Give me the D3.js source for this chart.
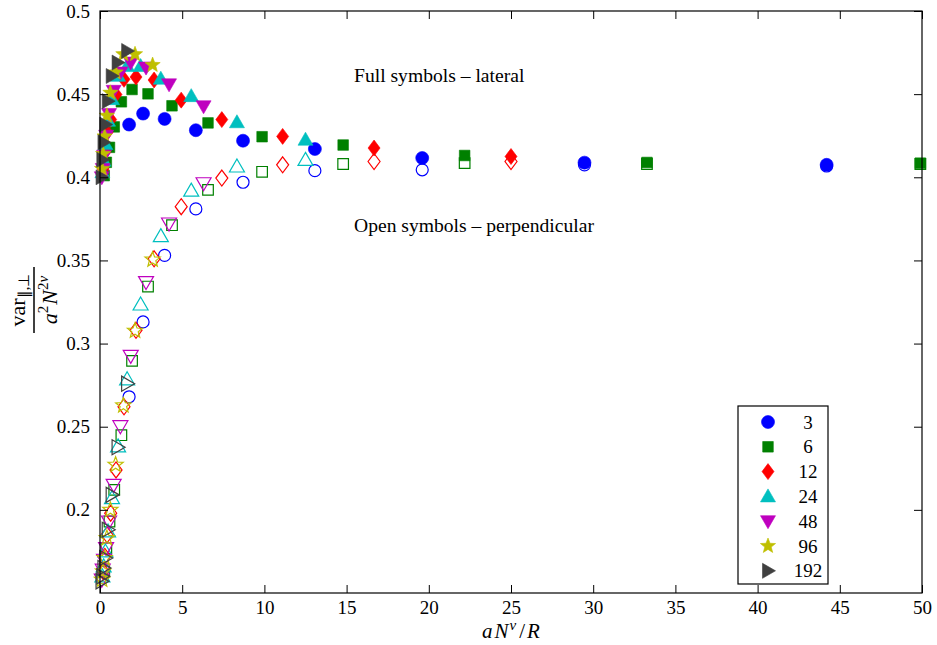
<!DOCTYPE html>
<html>
<head>
  <meta charset="utf-8">
  <script src="https://d3js.org/d3.v7.min.js"></script>
  <style>
    body { margin: 0; background: #fff; }
    svg text { font-family: "Liberation Serif", "Times New Roman", serif; fill: #000; }
  </style>
  <script type="text/javascript">
    // chain length N for each series (legend)
    var seriesLabels = ["3", "6", "12", "24", "48", "96", "192"];
    var seriesColors = ["#0000ff", "#008000", "#ff0000", "#00bfbf", "#bf00bf", "#bfbf00", "#404040"];
    var seriesShapes = ["circle", "square", "diamond", "triangleUp", "triangleDown", "star", "triangleRight"];

    // aN^nu/R values and variances (full = lateral, open = perpendicular)
    var x3 = [1.77, 2.62, 3.93, 5.83, 8.7, 13.07, 19.6, 29.47, 44.2];
    var full3 = [0.4317, 0.4383, 0.4351, 0.4283, 0.422, 0.417, 0.4116, 0.4088, 0.4075];
    var open3 = [0.268, 0.313, 0.353, 0.381, 0.397, 0.404, 0.4045, 0.4075, 0.4068];

    var x6 = [0.257, 0.385, 0.577, 0.866, 1.30, 1.95, 2.92, 4.38, 6.57, 9.86, 14.79, 22.18, 33.27, 49.9];
    var full6 = [0.401, 0.409, 0.418, 0.4303, 0.4454, 0.4528, 0.4502, 0.443, 0.4327, 0.4244, 0.4194, 0.4131, 0.4089, 0.4085];
    var open6 = [0.163, 0.177, 0.193, 0.212, 0.2449, 0.2896, 0.3343, 0.3712, 0.3924, 0.4033, 0.408, 0.4085, 0.408, 0.408];

    var x12 = [0.19, 0.29, 0.43, 0.65, 0.975, 1.46, 2.19, 3.29, 4.94, 7.41, 11.11, 16.67, 25.0];
    var full12 = [0.405, 0.415, 0.427, 0.4347, 0.4498, 0.4589, 0.4603, 0.4585, 0.4464, 0.4347, 0.4246, 0.4176, 0.4125];
    var open12 = [0.163, 0.172, 0.185, 0.198, 0.224, 0.262, 0.308, 0.351, 0.3823, 0.3995, 0.4075, 0.4095, 0.4095];

    var x24 = [0.145, 0.22, 0.33, 0.49, 0.73, 1.10, 1.65, 2.47, 3.70, 5.55, 8.33, 12.5];
    var full24 = [0.403, 0.41, 0.42, 0.434, 0.447, 0.461, 0.4669, 0.4669, 0.4593, 0.4488, 0.4331, 0.4226];
    var open24 = [0.16, 0.166, 0.175, 0.187, 0.207, 0.2382, 0.2785, 0.3235, 0.3646, 0.392, 0.4065, 0.4105];

    var x48 = [0.11, 0.165, 0.245, 0.37, 0.55, 0.83, 1.24, 1.87, 2.8, 4.2, 6.3];
    var full48 = [0.4, 0.405, 0.413, 0.425, 0.438, 0.452, 0.463, 0.469, 0.466, 0.4559, 0.4427];
    var open48 = [0.158, 0.164, 0.17, 0.177, 0.193, 0.215, 0.2503, 0.2926, 0.337, 0.3722, 0.3964];

    var x96 = [0.125, 0.19, 0.28, 0.42, 0.63, 0.95, 1.42, 2.13, 3.2];
    var full96 = [0.405, 0.414, 0.4246, 0.437, 0.4508, 0.463, 0.474, 0.474, 0.4675];
    var open96 = [0.158, 0.163, 0.171, 0.183, 0.20, 0.2271, 0.2628, 0.3077, 0.3505];

    var x192 = [0.094, 0.14, 0.21, 0.32, 0.47, 0.71, 1.07, 1.65];
    var full192 = [0.4, 0.4105, 0.421, 0.4317, 0.4458, 0.4609, 0.469, 0.476];
    var open192 = [0.157, 0.16, 0.165, 0.171, 0.188, 0.209, 0.2376, 0.2759];

    var xTicks = [0, 5, 10, 15, 20, 25, 30, 35, 40, 45, 50];
    var yTicks = [0.2, 0.25, 0.3, 0.35, 0.4, 0.45, 0.5];

    function draw() {
      "use strict";
      var width = 937, height = 645;
      var left = 100, right = 922, top = 11, bottom = 593;

      var allX = [x3, x6, x12, x24, x48, x96, x192];
      var allFull = [full3, full6, full12, full24, full48, full96, full192];
      var allOpen = [open3, open6, open12, open24, open48, open96, open192];

      var svg = d3.select("body").append("svg")
          .attr("width", width)
          .attr("height", height);

      var x = d3.scaleLinear().domain([0, 50]).range([left, right]);
      var y = d3.scaleLinear().domain([0.15, 0.5]).range([bottom, top]);

      // marker outlines, drawn around (0,0)
      function markerPath(shape, open) {
        var p = d3.path();
        if (shape === "circle") {
          var r = open ? 6 : 6.5;
          p.arc(0, 0, r, 0, 2 * Math.PI);
        } else if (shape === "square") {
          p.rect(-5.3, -5.3, 10.6, 10.6);
        } else if (shape === "diamond") {
          p.moveTo(0, -8); p.lineTo(6, 0); p.lineTo(0, 8); p.lineTo(-6, 0); p.closePath();
        } else if (shape === "triangleUp") {
          p.moveTo(0, -7.5); p.lineTo(7.5, 5.5); p.lineTo(-7.5, 5.5); p.closePath();
        } else if (shape === "triangleDown") {
          p.moveTo(0, 7.5); p.lineTo(7.5, -5.5); p.lineTo(-7.5, -5.5); p.closePath();
        } else if (shape === "triangleRight") {
          p.moveTo(7.5, 0); p.lineTo(-5.5, -7.5); p.lineTo(-5.5, 7.5); p.closePath();
        } else if (shape === "star") {
          for (var k = 0; k < 10; k++) {
            var rr = k % 2 === 0 ? 8 : 3.4;
            var a = -Math.PI / 2 + k * Math.PI / 5;
            if (k === 0) p.moveTo(rr * Math.cos(a), rr * Math.sin(a));
            else p.lineTo(rr * Math.cos(a), rr * Math.sin(a));
          }
          p.closePath();
        }
        return p.toString();
      }

      var plot = svg.append("g");

      // each series: full symbols then open symbols
      seriesLabels.forEach(function (lab, i) {
        var full = allX[i].map(function (d, j) { return {x: d, y: allFull[i][j]}; });
        var open = allX[i].map(function (d, j) { return {x: d, y: allOpen[i][j]}; });

        plot.selectAll("path.full" + i)
            .data(full)
            .enter().append("path")
            .attr("class", "full" + i)
            .attr("transform", function (d) { return "translate(" + x(d.x) + "," + y(d.y) + ")"; })
            .attr("d", markerPath(seriesShapes[i], false))
            .style("fill", seriesColors[i])
            .style("stroke", seriesColors[i])
            .style("stroke-width", 0.6);

        plot.selectAll("path.open" + i)
            .data(open)
            .enter().append("path")
            .attr("class", "open" + i)
            .attr("transform", function (d) { return "translate(" + x(d.x) + "," + y(d.y) + ")"; })
            .attr("d", markerPath(seriesShapes[i], true))
            .style("fill", "none")
            .style("stroke", seriesColors[i])
            .style("stroke-width", 1.2);
      });

      // axes with inward ticks, mirrored on top and right
      var xAxis = d3.axisBottom(x).tickValues(xTicks).tickSize(-8).tickPadding(8).tickFormat(d3.format("d"));
      var yAxis = d3.axisLeft(y).tickValues(yTicks).tickSize(-8).tickPadding(10).tickFormat(function (d) { return d3.format("")(+d.toFixed(2)); });

      var gx = svg.append("g").attr("transform", "translate(0," + bottom + ")").call(xAxis);
      var gy = svg.append("g").attr("transform", "translate(" + left + ",0)").call(yAxis);
      var gxt = svg.append("g").attr("transform", "translate(0," + top + ")")
          .call(d3.axisTop(x).tickValues(xTicks).tickSize(-8).tickFormat(""));
      var gyr = svg.append("g").attr("transform", "translate(" + right + ",0)")
          .call(d3.axisRight(y).tickValues(yTicks).tickSize(-8).tickFormat(""));

      [gx, gy, gxt, gyr].forEach(function (g) {
        g.attr("font-size", 19).attr("font-family", "Liberation Serif");
        g.select(".domain").remove();
        g.selectAll("line").style("stroke", "#000").style("stroke-width", 1);
        g.selectAll("text")
            .style("font-size", "19px")
            .style("font-family", "'Liberation Serif', serif");
      });

      svg.append("rect")
          .attr("x", left).attr("y", top)
          .attr("width", right - left).attr("height", bottom - top)
          .style("fill", "none").style("stroke", "#000").style("stroke-width", 1.2);

      // annotations
      svg.append("text").attr("x", 354).attr("y", 82).style("font-size", "19.6px")
          .text("Full symbols \u2013 lateral");
      svg.append("text").attr("x", 354).attr("y", 232).style("font-size", "19.6px")
          .text("Open symbols \u2013 perpendicular");

      // x label: aN^nu/R
      var xl = svg.append("text").attr("x", 511).attr("y", 638)
          .attr("text-anchor", "middle")
          .style("font-size", "21px").style("font-style", "italic");
      xl.append("tspan").text("a");
      xl.append("tspan").attr("dx", 2).text("N");
      xl.append("tspan").attr("dy", -8).attr("dx", 1).style("font-size", "15px").text("\u03bd");
      xl.append("tspan").attr("dy", 8).attr("dx", 3).style("font-style", "normal").text("/");
      xl.append("tspan").attr("dx", 2).text("R");

      // y label: var_{||,perp} / (a^2 N^{2nu})
      var yl = svg.append("g").attr("transform", "translate(34,300) rotate(-90)");
      var num = yl.append("text").attr("x", 0).attr("y", -9).attr("text-anchor", "middle").style("font-size", "22px");
      num.append("tspan").text("var");
      num.append("tspan").attr("dy", 4).style("font-size", "15px").text("\u2225,\u22a5");
      yl.append("line").attr("x1", -33).attr("x2", 33).attr("y1", 0).attr("y2", 0)
          .style("stroke", "#000").style("stroke-width", 1.5);
      var den = yl.append("text").attr("x", 0).attr("y", 23).attr("text-anchor", "middle").style("font-size", "22px");
      den.append("tspan").style("font-style", "italic").text("a");
      den.append("tspan").attr("dy", -9).style("font-size", "15px").text("2");
      den.append("tspan").attr("dy", 9).attr("dx", 1).style("font-style", "italic").text("N");
      den.append("tspan").attr("dy", -9).style("font-size", "15px").text("2");
      den.append("tspan").style("font-size", "15px").style("font-style", "italic").text("\u03bd");

      // legend
      var lx = 738, ly = 406;
      svg.append("rect").attr("x", lx).attr("y", ly).attr("width", 90).attr("height", 178)
          .style("fill", "#fff").style("stroke", "#000").style("stroke-width", 1.2);
      var leg = svg.append("g").selectAll("g")
          .data(seriesLabels)
          .enter().append("g")
          .attr("transform", function (d, i) { return "translate(0," + (ly + 16 + i * 24.8) + ")"; });
      leg.append("path")
          .attr("transform", "translate(" + (lx + 30) + ",0)")
          .attr("d", function (d, i) { return markerPath(seriesShapes[i], false); })
          .style("fill", function (d, i) { return seriesColors[i]; })
          .style("stroke", function (d, i) { return seriesColors[i]; })
          .style("stroke-width", 0.6);
      leg.append("text")
          .attr("x", lx + 70).attr("y", 6.5)
          .attr("text-anchor", "middle")
          .style("font-size", "19px")
          .text(function (d) { return d; });
    }
  </script>
</head>
<body>
  <script type="text/javascript">
    draw();
  </script>
</body>
</html>
